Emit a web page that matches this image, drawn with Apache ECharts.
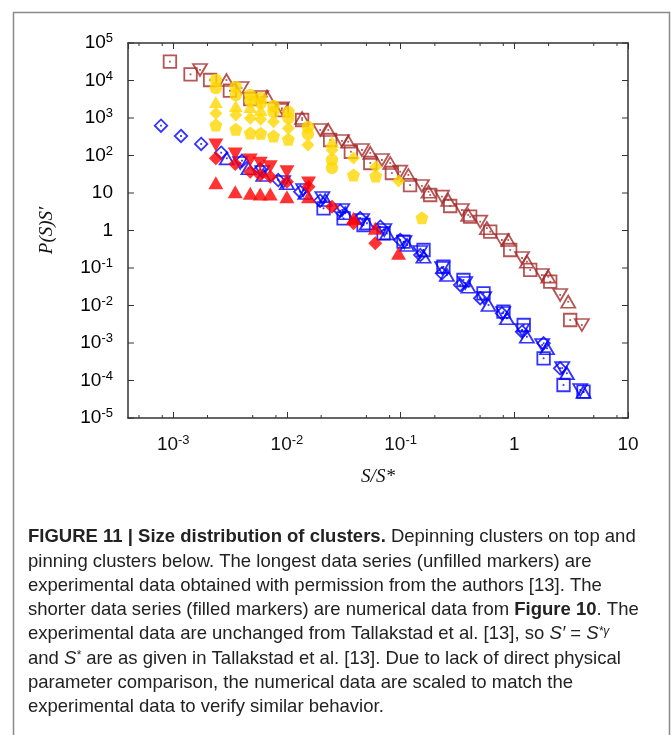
<!DOCTYPE html>
<html><head><meta charset="utf-8">
<script src="https://cdn.jsdelivr.net/npm/echarts@6/dist/echarts.min.js"></script>
<style>html,body{margin:0;padding:0;background:#fff}#c{width:671px;height:735px}</style>
</head><body><div id="c"></div>
<script>
// ---- data (x = S/S*, y = P(S)S') ----
const brownSquares = [[9.35e-4,3.17e4],[1.42e-3,1.46e4],[2.11e-3,1.03e4],[3.15e-3,5.35e3],[4.76e-3,3.21e3],[9.03e-3,1.63e3],[1.36e-2,885],[2.40e-2,259],[3.65e-2,126],[5.41e-2,63.1],[8.38e-2,34.1],[0.121,16.3],[0.182,8.85],[0.273,4.50],[0.409,2.33],[0.614,0.929],[0.920,0.302],[1.38,8.86e-2],[2.07,4.31e-2],[3.10,4.10e-3]];
const brownDown = [[1.72e-3,1.91e4],[3.99e-3,6.31e3],[5.94e-3,3.63e3],[9.03e-3,1.82e3],[1.96e-2,479],[3.05e-2,244],[4.57e-2,140],[6.85e-2,75.9],[9.91e-2,37.0],[0.154,15.4],[0.231,7.97],[0.346,3.52],[0.501,1.72],[0.778,0.558],[1.17,0.185],[1.75,6.51e-2],[2.53,1.91e-2],[3.93,3.02e-3]];
const brownUp = [[2.94e-3,1.03e4],[6.67e-3,3.70e3],[1.36e-2,1.0e3],[2.31e-2,479],[3.46e-2,233],[5.41e-2,117],[8.11e-2,63.1],[0.117,30.2],[0.176,10.8],[0.262,6.50],[0.393,2.59],[0.574,1.15],[0.884,0.558],[1.29,0.147],[1.99,5.86e-2],[2.98,1.26e-2]];

const blueDiamonds = [[7.80e-4,624],[1.17e-3,331],[1.76e-3,203],[2.64e-3,119],[4.02e-3,72.6],[5.82e-3,42.9],[8.38e-3,22.2],[1.31e-2,10.8],[1.96e-2,6.24],[2.94e-2,3.37],[4.41e-2,2.15],[6.62e-2,1.26],[9.91e-2,0.558],[0.149,0.222],[0.231,7.23e-2],[0.334,3.52e-2],[0.501,1.56e-2],[0.778,6.19e-3],[1.17,2.00e-3],[1.81,9.82e-4],[2.53,2.12e-4]];
const blueUp = [[2.96e-3,84.2],[4.59e-3,45.6],[6.19e-3,30.2],[1.0e-2,18.2],[1.45e-2,10.0],[2.17e-2,6.50],[3.26e-2,2.88],[5.06e-2,1.56],[7.59e-2,0.842],[0.114,0.410],[0.159,0.200],[0.255,6.51e-2],[0.395,3.17e-2],[0.593,1.03e-2],[0.861,4.56e-3],[1.29,1.47e-3],[1.94,7.23e-4],[2.90,1.56e-4],[4.06,4.93e-5]];
const blueDown = [[3.88e-3,63.1],[6.07e-3,36.3],[9.27e-3,19.6],[1.39e-2,12.0],[2.05e-2,7.36],[3.06e-2,3.52],[4.59e-2,1.91],[7.18e-2,1.03],[0.108,0.493],[0.149,0.267],[0.232,0.100],[0.370,3.98e-2],[0.543,1.58e-2],[0.798,6.31e-3],[1.17,2.22e-3],[1.76,8.85e-4],[2.64,2.15e-4],[3.80,5.58e-5]];
const blueSquares = [[2.10e-2,3.91],[3.15e-2,2.11],[4.72e-2,1.40],[7.08e-2,0.842],[0.106,0.502],[0.159,0.302],[0.238,0.108],[0.357,4.79e-2],[0.536,2.11e-2],[0.803,6.84e-3],[1.21,3.02e-3],[1.81,3.91e-4],[2.71,7.59e-5],[4.06,5.02e-5]];

const goldCircles = [[2.37e-3,1.03e4],[2.37e-3,6.31e3],[3.55e-3,6.71e3],[3.55e-3,4.10e3],[4.76e-3,4.10e3],[4.76e-3,2.84e3],[5.88e-3,3.41e3],[5.88e-3,2.51e3],[7.62e-3,2.09e3],[7.62e-3,1.45e3],[1.03e-2,1.45e3],[1.03e-2,1.0e3],[1.53e-2,575],[1.53e-2,374],[2.49e-2,75.9],[2.49e-2,46.4]];
const goldUp = [[2.37e-3,2.67e3],[3.55e-3,2.09e3],[4.76e-3,1.96e3],[5.88e-3,1.63e3],[2.49e-2,233]];
const goldDiamonds = [[2.37e-3,1.33e3],[3.55e-3,1.20e3],[4.76e-3,982],[5.88e-3,923],[7.62e-3,796],[1.03e-2,531],[1.53e-2,191],[2.49e-2,140],[3.85e-2,85.8],[6.04e-2,50.2],[9.59e-2,20.9]];
const goldPentagons = [[2.37e-3,650],[3.55e-3,500],[4.76e-3,398],[5.88e-3,391],[7.62e-3,331],[1.03e-2,270],[3.85e-2,30.2],[6.04e-2,28.4],[0.154,2.19]];

const redDown = [[2.37e-3,191],[3.51e-3,110],[4.76e-3,75.9],[5.82e-3,61.9],[7.13e-3,50.2],[1.0e-2,37.0],[1.55e-2,18.5]];
const redDiamonds = [[2.37e-3,84.2],[3.51e-3,59.3],[4.76e-3,37.0],[5.82e-3,30.2],[7.13e-3,27.2],[1.0e-2,20.0],[1.55e-2,14.7],[2.49e-2,4.31],[3.85e-2,1.56],[5.98e-2,0.456]];
const redUp = [[2.37e-3,18.8],[3.51e-3,10.8],[4.76e-3,9.82],[5.82e-3,9.40],[7.13e-3,9.40],[1.0e-2,7.97],[1.55e-2,7.97],[3.85e-2,2.11],[5.98e-2,1.15],[9.59e-2,0.247]];

const xMinorTicks = [5e-4,8e-4,2e-3,5e-3,8e-3,2e-2,5e-2,8e-2,0.2,0.5,0.8,2,5,8];
const yMajorTicks = [1e-5,1e-4,1e-3,1e-2,1e-1,1,10,1e2,1e3,1e4,1e5];
const X_MIN = 4e-4, X_MAX = 10, Y_MIN = 1e-5, Y_MAX = 1e5;

// ---- styling ----
const BROWN = '#a52a2a', BLUE = '#0000ff', GOLD = '#ffd700', RED = '#ff0000';
const AX = '#333';
const PENT = 'path://M0,-1 L0.951,-0.309 L0.588,0.809 L-0.588,0.809 L-0.951,-0.309 Z';

function openS(data, symbol, color, size, rotate) {
  return [{
    type: 'scatter', data, symbol, symbolSize: size, symbolRotate: rotate || 0, silent: true,
    itemStyle: { color: 'rgba(255,255,255,0)', borderColor: color, borderWidth: 1.8 }
  }, {
    type: 'scatter', data, symbol: 'rect', symbolSize: 1.8, silent: true,
    itemStyle: { color }
  }];
}
function fillS(data, symbol, color, size, rotate) {
  return { type: 'scatter', data, symbol, symbolSize: size, symbolRotate: rotate || 0, silent: true, itemStyle: { color } };
}

function fmt(v) {
  const l = Math.log10(v), e = Math.round(l);
  if (Math.abs(l - e) > 1e-6) return '';
  if (e === 0) return '{b|1}';
  if (e === 1) return '{b|10}';
  return '{b|10}{s|' + e + '}';
}
const labelRich = {
  b: { fontSize: 19, fontFamily: 'Liberation Sans', color: '#111', lineHeight: 22 },
  s: { fontSize: 13, fontFamily: 'Liberation Sans', color: '#111', verticalAlign: 'top', lineHeight: 22 }
};

// y-axis decade ticks and labels drawn through the y scale
const yTickSeries = {
  type: 'custom', silent: true, clip: false, z: 5,
  data: yMajorTicks.map(v => [X_MIN, v]),
  encode: { x: 0, y: 1 },
  renderItem(params, api) {
    const v = api.value(1);
    const l = api.coord([X_MIN, v]), r = api.coord([X_MAX, v]);
    return { type: 'group', children: [
      { type: 'line', shape: { x1: l[0], y1: l[1], x2: l[0] + 6, y2: l[1] }, style: { stroke: AX, lineWidth: 1 } },
      { type: 'line', shape: { x1: r[0], y1: r[1], x2: r[0] - 6, y2: r[1] }, style: { stroke: AX, lineWidth: 1 } },
      { type: 'text', x: l[0] - 15, y: l[1], style: { text: fmt(v), rich: labelRich, align: 'right', verticalAlign: 'middle' } }
    ] };
  }
};

const series = [
  ...openS(brownSquares, 'rect', BROWN, 12.5),
  ...openS(brownDown, 'triangle', BROWN, [14, 12], 180),
  ...openS(brownUp, 'triangle', BROWN, [14, 12]),
  ...openS(blueDiamonds, 'diamond', BLUE, 12.5),
  ...openS(blueSquares, 'rect', BLUE, 12.5),
  ...openS(blueDown, 'triangle', BLUE, [14, 12], 180),
  ...openS(blueUp, 'triangle', BLUE, [14, 12]),
  fillS(goldCircles, 'circle', GOLD, 12.5),
  fillS(goldUp, 'triangle', GOLD, [14, 12]),
  fillS(goldDiamonds, 'diamond', GOLD, 13),
  fillS(goldPentagons, PENT, GOLD, 13),
  fillS(redDown, 'triangle', RED, [15, 13], 180),
  fillS(redDiamonds, 'diamond', RED, 14),
  fillS(redUp, 'triangle', RED, [15, 13]),
  {
    type: 'custom', silent: true, clip: false, z: 5,
    data: xMinorTicks.map(v => [v, Y_MIN]),
    encode: { x: 0, y: 1 },
    renderItem(params, api) {
      const v = api.value(0);
      const b = api.coord([v, Y_MIN]), t = api.coord([v, Y_MAX]);
      return { type: 'group', children: [
        { type: 'line', shape: { x1: b[0], y1: b[1], x2: b[0], y2: b[1] - 3 }, style: { stroke: AX, lineWidth: 1 } },
        { type: 'line', shape: { x1: t[0], y1: t[1], x2: t[0], y2: t[1] + 3 }, style: { stroke: AX, lineWidth: 1 } }
      ] };
    }
  },
  yTickSeries
];

const axisCommon = {
  axisLine: { show: true, onZero: false, lineStyle: { color: AX, width: 1.5 } },
  axisTick: { show: true, inside: true, length: 6, lineStyle: { color: AX, width: 1 } },
  splitLine: { show: false }
};

const captionLines = [
  '{b|FIGURE 11 | Size distribution of clusters.} Depinning clusters on top and',
  'pinning clusters below. The longest data series (unfilled markers) are',
  'experimental data obtained with permission from the authors {g|[13]}. The',
  'shorter data series (filled markers) are numerical data from {b|Figure 10}. The',
  'experimental data are unchanged from Tallakstad et al. {g|[13]}, so {i|S′} = {i|S}{sup|*γ}',
  'and {i|S}{sup|*} are as given in Tallakstad et al. {g|[13]}. Due to lack of direct physical',
  'parameter comparison, the numerical data are scaled to match the',
  'experimental data to verify similar behavior.'
];
const CF = 'Liberation Sans', CS = 18.5, LH = 24.3;

const chart = echarts.init(document.getElementById('c'), null, { renderer: 'canvas' });
chart.setOption({
  animation: false,
  backgroundColor: '#fff',
  grid: { left: 128, right: 43, top: 43, bottom: 317, containLabel: false, outerBoundsMode: 'none' },
  xAxis: [
    Object.assign({
      type: 'log', min: X_MIN, max: X_MAX, splitNumber: 5, position: 'bottom',
      name: 'S/S*', nameLocation: 'middle', nameGap: 49,
      nameTextStyle: { fontFamily: 'Liberation Serif', fontStyle: 'italic', fontSize: 19, color: '#111' },
      axisLabel: { formatter: fmt, rich: labelRich, margin: 16, showMinLabel: false }
    }, axisCommon),
    Object.assign({ type: 'log', min: X_MIN, max: X_MAX, splitNumber: 5, position: 'top', axisLabel: { show: false } }, axisCommon)
  ],
  yAxis: [
    Object.assign({}, axisCommon, {
      type: 'log', min: Y_MIN, max: Y_MAX, position: 'left',
      name: 'P(S)S′', nameLocation: 'middle', nameGap: 72, nameRotate: 90,
      nameTextStyle: { fontFamily: 'Liberation Serif', fontStyle: 'italic', fontSize: 19, color: '#111' },
      axisLabel: { show: false }, axisTick: { show: false }
    }),
    Object.assign({}, axisCommon, { type: 'log', min: Y_MIN, max: Y_MAX, position: 'right', axisLabel: { show: false }, axisTick: { show: false } })
  ],
  series,
  graphic: [
    { type: 'polyline', shape: { points: [[13.5, 760], [13.5, 12.5], [669.5, 12.5], [669.5, 760]] },
      style: { stroke: '#8a8a8a', lineWidth: 1.5, fill: null }, silent: true },
    { type: 'text', left: 28, top: 525, silent: true,
      style: {
        text: captionLines.join('\n'), fontFamily: CF, fontSize: CS, lineHeight: LH, fill: '#222',
        rich: {
          b: { fontFamily: CF, fontSize: CS, fontWeight: 'bold', lineHeight: LH, color: '#111' },
          g: { fontFamily: CF, fontSize: CS, lineHeight: LH, color: '#9a9a9a' },
          i: { fontFamily: CF, fontSize: CS, fontStyle: 'italic', lineHeight: LH, color: '#222' },
          sup: { fontFamily: CF, fontSize: 12, fontStyle: 'italic', lineHeight: LH, verticalAlign: 'top', padding: [3, 0, 0, 0], color: '#222' }
        }
      }
    }
  ]
});
</script></body></html>
